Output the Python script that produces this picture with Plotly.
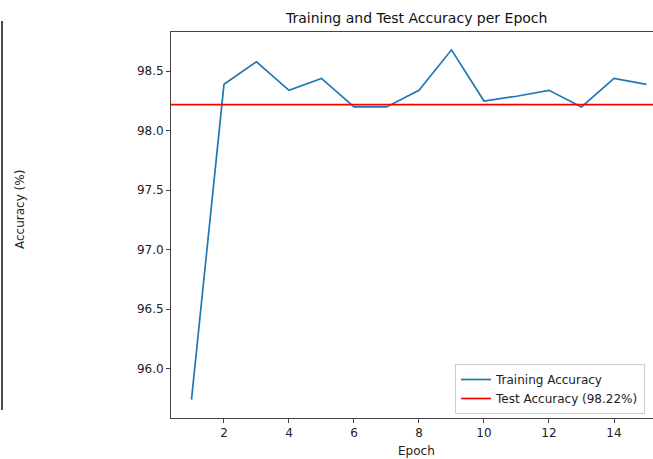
import plotly.graph_objects as go

epochs = list(range(1, 16))
train_acc = [95.74, 98.39, 98.58, 98.34, 98.44, 98.20, 98.20, 98.34, 98.68,
             98.25, 98.29, 98.34, 98.20, 98.44, 98.39]
test_acc = 98.22
y_ticks = [96.0, 96.5, 97.0, 97.5, 98.0, 98.5]
x_ticks = [2, 4, 6, 8, 10, 12, 14]

W, H = 653, 459
L, T, R, B = 171, 32, 653, 418


def px(x):
    return (x - L) / (R - L)


def py(y):
    return (B - y) / (B - T)


FONT = "DejaVu Sans"
fig = go.Figure()
fig.add_trace(go.Scatter(x=epochs, y=train_acc, mode="lines", name="Training Accuracy",
                         line=dict(color="#1f77b4", width=1.7)))
fig.add_trace(go.Scatter(x=[0, 20], y=[test_acc, test_acc], mode="lines",
                         name=f"Test Accuracy ({test_acc:.2f}%)",
                         line=dict(color="red", width=1.7)))

fig.update_layout(
    width=W, height=H,
    margin=dict(l=L, r=W - R, t=T, b=H - B, pad=0),
    paper_bgcolor="white", plot_bgcolor="white",
    font=dict(family=FONT, size=12, color="#222"),
    showlegend=True,
    legend=dict(x=px(455), y=py(364), xanchor="left", yanchor="top",
                bgcolor="white", bordercolor="#cccccc", borderwidth=1,
                font=dict(size=12, color="#222"), tracegroupgap=0),
    xaxis=dict(range=[0.37, 15.2], tickvals=x_ticks, ticks="outside", ticklen=4,
               tickcolor="#444", showline=True, linecolor="#444", linewidth=1,
               mirror=True, showgrid=False, zeroline=False,
               tickfont=dict(size=12, color="#222")),
    yaxis=dict(range=[95.585, 98.83], tickvals=y_ticks,
               ticktext=[f"{v:.1f}" for v in y_ticks], ticks="outside", ticklen=4,
               tickcolor="#444", showline=True, linecolor="#444", linewidth=1,
               showgrid=False, zeroline=False, tickfont=dict(size=12, color="#222")),
    annotations=[
        dict(text="Training and Test Accuracy per Epoch", x=px(416), y=py(18),
             xref="paper", yref="paper", showarrow=False, xanchor="center",
             yanchor="middle", font=dict(size=14, color="#111")),
        dict(text="Epoch", x=px(416), y=py(451), xref="paper", yref="paper",
             showarrow=False, xanchor="center", yanchor="middle",
             font=dict(size=12, color="#222")),
        dict(text="Accuracy (%)", x=px(20), y=py(210), xref="paper", yref="paper",
             showarrow=False, xanchor="center", yanchor="middle", textangle=-90,
             font=dict(size=12, color="#222")),
    ],
    shapes=[
        dict(type="line", xref="paper", yref="paper", x0=px(2), x1=px(2),
             y0=py(21), y1=py(410), line=dict(color="#111", width=1.5)),
    ],
)

fig.write_html("out.html", config={"displayModeBar": False},
               post_script="document.body.style.margin='0';document.body.style.overflow='hidden';")
